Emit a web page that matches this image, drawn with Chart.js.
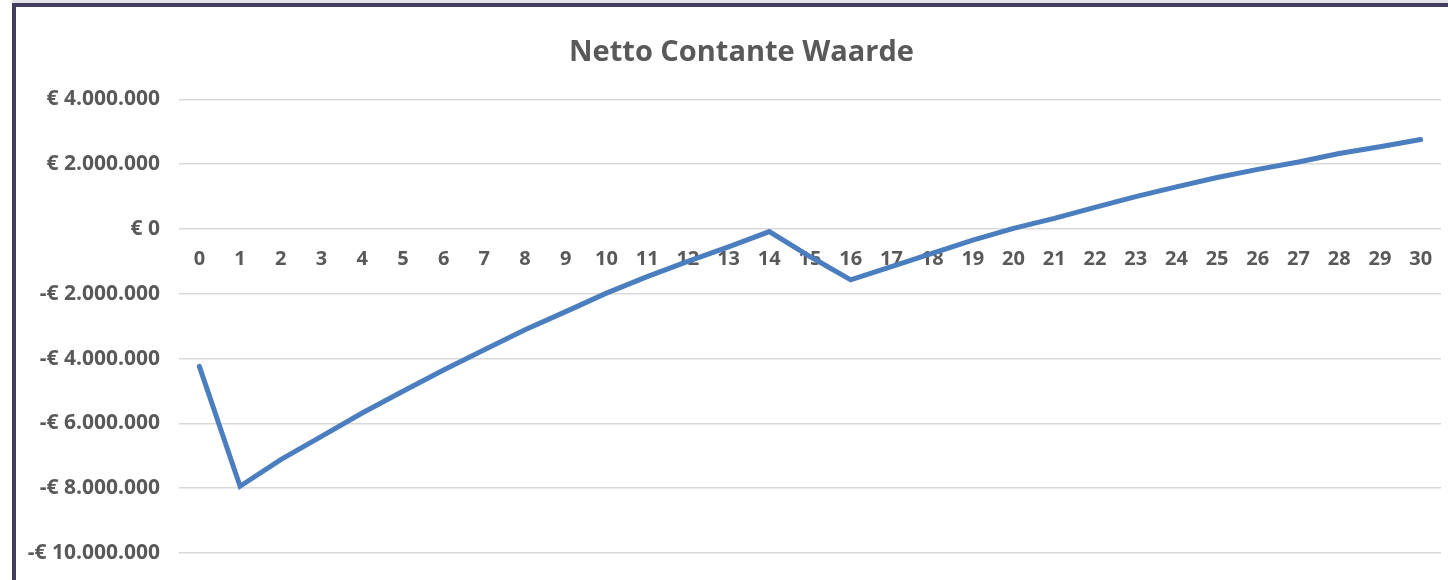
<!DOCTYPE html>
<html>
<head>
<meta charset="utf-8">
<script src="https://cdn.jsdelivr.net/npm/chart.js@4"></script>
<style>
    body { margin: 0; background: #ffffff; }
    .kader {
        position: absolute;
        left: 12px;
        top: 3px;
        width: 1432px;
        height: 573px;
        border-left: 4px solid #423e5e;
        border-top: 4px solid #423e5e;
        background: #ffffff;
    }
    .rand { position: absolute; left: 12px; top: 0; width: 1436px; height: 3px; background: #e4e4e8; }
</style>
</head>
<body>
<div class="rand"></div>
<div class="kader">
    <canvas id="grafiekNCW" width="1432" height="573"></canvas>
</div>
<script>
// jaren 0 t/m 30
const jaren = ["0", "1", "2", "3", "4", "5", "6", "7", "8", "9", "10",
    "11", "12", "13", "14", "15", "16", "17", "18", "19", "20",
    "21", "22", "23", "24", "25", "26", "27", "28", "29", "30"];

const ncw = [-4240000, -7940000, -7120000, -6400000, -5680000, -5010000, -4350000,
    -3730000, -3110000, -2550000, -1980000, -1470000, -1000000, -550000, -80000,
    -850000, -1570000, -1160000, -750000, -340000, 20000, 330000, 670000,
    1000000, 1300000, 1590000, 1840000, 2070000, 2330000, 2540000, 2760000];

const yMin = -10000000;
const yMax = 4000000;
const yStap = 2000000;

function euro(waarde) {
    const tekst = Math.abs(waarde).toString().replace(/\B(?=(\d{3})+(?!\d))/g, ".");
    return (waarde < 0 ? "-€ " : "€ ") + tekst;
}

const grijs = "#595959";
const lettertype = "'Open Sans', 'DejaVu Sans', sans-serif";

// titel staat in het origineel iets rechts van het midden
const titelVerschuiving = {
    id: "titelVerschuiving",
    afterLayout(chart) {
        if (chart.titleBlock) {
            chart.titleBlock.left += 13;
            chart.titleBlock.right += 13;
        }
    }
};

new Chart(document.getElementById("grafiekNCW"), {
    type: "line",
    data: {
        labels: jaren,
        datasets: [{
            label: "NCW",
            data: ncw,
            borderColor: "#4a7ebf",
            borderWidth: 5,
            borderCapStyle: "round",
            borderJoinStyle: "miter",
            pointRadius: 0,
            tension: 0,
            fill: false
        }]
    },
    plugins: [titelVerschuiving],
    options: {
        responsive: false,
        animation: false,
        layout: { padding: { left: 0, right: 7, top: 0, bottom: 27 } },
        plugins: {
            legend: { display: false },
            tooltip: { enabled: false },
            title: {
                display: true,
                text: "Netto Contante Waarde",
                color: grijs,
                font: { family: lettertype, size: 29, weight: "bold" },
                padding: { top: 28, bottom: 29.6 }
            }
        },
        scales: {
            x: {
                position: { y: 0 },
                offset: true,
                grid: { display: false },
                border: { display: false },
                ticks: {
                    color: grijs,
                    padding: 10,
                    maxRotation: 0,
                    autoSkip: false,
                    font: { family: lettertype, size: 20, weight: "bold" }
                },
                afterFit: function (schaal) { schaal.height = 0; }
            },
            y: {
                min: yMin,
                max: yMax,
                grid: { color: "#d9d9d9", lineWidth: 1.5, drawTicks: false },
                border: { display: false },
                ticks: {
                    stepSize: yStap,
                    color: grijs,
                    padding: 19,
                    font: { family: lettertype, size: 21, weight: "bold" },
                    callback: function (waarde) { return euro(waarde); }
                },
                afterFit: function (schaal) {
                    schaal.width = 163;
                    schaal.paddingTop = 0;
                    schaal.paddingBottom = 0;
                }
            }
        }
    }
});
</script>
</body>
</html>
